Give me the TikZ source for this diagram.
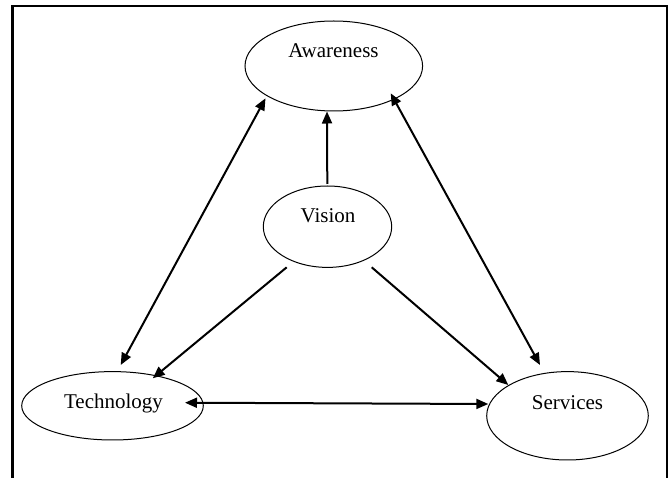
\documentclass[tikz,border=0pt]{standalone}
\usepackage{fontspec}
\setmainfont{Liberation Serif}
\usetikzlibrary{arrows.meta,shapes.geometric}
\begin{document}
\begin{tikzpicture}[x=1pt,y=1pt,
  ell/.style={draw,ellipse,line width=1pt,inner sep=0pt,outer sep=0pt},
  lbl/.style={anchor=base,inner sep=0pt,font=\fontsize{21}{24}\selectfont},
  arr/.style={line width=2pt,-{Triangle[length=12pt,width=10pt]}},
  darr/.style={line width=2pt,{Triangle[length=12pt,width=10pt]}-{Triangle[length=12pt,width=10pt]}}]
\useasboundingbox (0,0) rectangle (670,-478);
% frame
\draw[line width=2.6pt] (12.3,-490) -- (12.3,-6) -- (667,-6) -- (667,-490);
% ellipses
\node[ell,minimum width=177.6pt,minimum height=90pt] (aw) at (333.8,-66) {};
\node[ell,minimum width=128.4pt,minimum height=81.4pt] (vi) at (327.5,-226.7) {};
\node[ell,minimum width=181.6pt,minimum height=68.4pt] (te) at (112.5,-405.8) {};
\node[ell,minimum width=161.6pt,minimum height=88.4pt] (se) at (567.5,-415.8) {};
% labels
\node[lbl] (awt) at (333.5,-58) {Awareness};
\node[lbl] (vit) at (328,-223) {Vision};
\node[lbl] (tet) at (113.5,-409) {Technology};
\node[lbl] (set) at (567.5,-410) {Services};
% connectors
\draw[darr] ([shift={(8.2,40.8)}]te.center) -- ([shift={(-68.3,-32.3)}]aw.center);
\draw[arr] ([shift={(-0.2,42.7)}]vi.center) -- ([shift={(-6.8,-45.5)}]aw.center);
\draw[darr] ([shift={(56.9,-27.3)}]aw.center) -- ([shift={(-27.5,50.8)}]se.center);
\draw[arr] ([shift={(-40.8,-40.6)}]vi.center) -- ([shift={(40.2,27.5)}]te.center);
\draw[arr] ([shift={(44.2,-40.6)}]vi.center) -- ([shift={(-59.2,30.8)}]se.center);
\draw[darr] ([shift={(72.5,3.1)}]te.center) -- ([shift={(-79.2,11.8)}]se.center);
\end{tikzpicture}
\end{document}
